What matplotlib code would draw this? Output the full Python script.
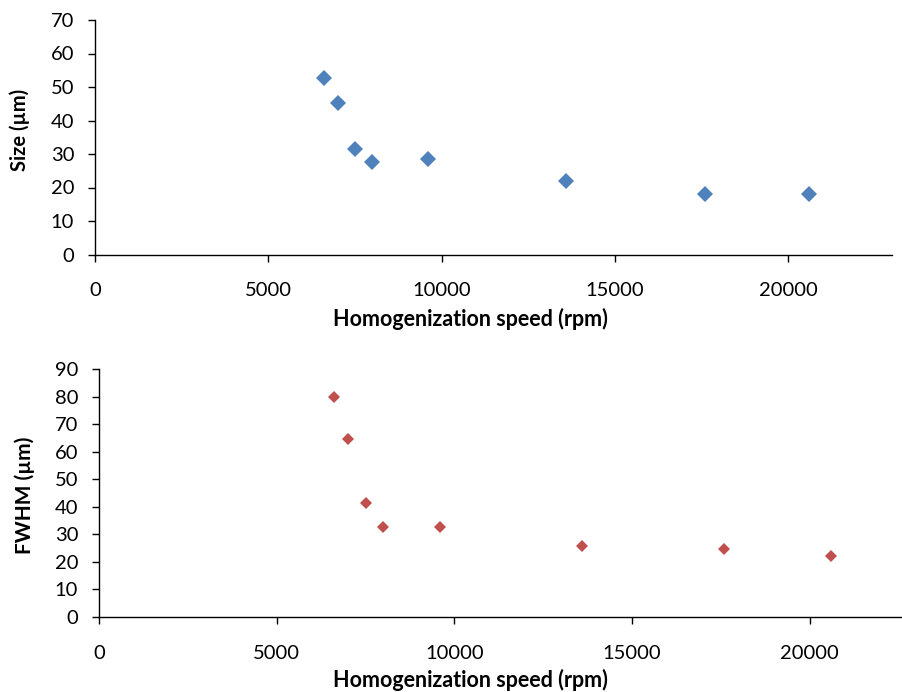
import matplotlib
matplotlib.use("Agg")
import matplotlib.pyplot as plt

# homogenization speed (rpm) and measured values
speed = [6600, 7000, 7500, 8000, 9600, 13600, 17600, 20600]
size_um = [52.8, 45.3, 31.5, 27.6, 28.4, 21.9, 18.0, 18.0]
fwhm_um = [79.8, 64.5, 41.4, 32.5, 32.5, 25.9, 24.7, 22.1]

xticks = [0, 5000, 10000, 15000, 20000]
size_ticks = list(range(0, 71, 10))
fwhm_ticks = list(range(0, 91, 10))

BLUE = "#4F81BD"
RED = "#C0504D"
FONT = "Lato"

plt.rcParams["font.family"] = [FONT, "DejaVu Sans"]

W, H = 903, 692
fig = plt.figure(figsize=(W / 100, H / 100), dpi=100)
fig.patch.set_facecolor("white")


def px_axes(left, top, right, bottom):
    return fig.add_axes([left / W, 1 - bottom / H, (right - left) / W, (bottom - top) / H])


def style(ax, yticks, ymax):
    ax.set_xlim(0, 23000)
    ax.set_ylim(0, ymax)
    ax.set_xticks(xticks)
    ax.set_yticks(yticks)
    for s in ("top", "right"):
        ax.spines[s].set_visible(False)
    for s in ("left", "bottom"):
        ax.spines[s].set_linewidth(1.0)
        ax.spines[s].set_color("black")
    ax.tick_params(axis="x", direction="out", length=5, width=1.0, pad=15, labelsize=14.5)
    ax.tick_params(axis="y", direction="out", length=5, width=1.0, pad=10, labelsize=14.5)
    for lab in ax.get_xticklabels() + ax.get_yticklabels():
        lab.set_color("black")


ax1 = px_axes(95, 20, 892, 254.5)
ax1.plot(speed, size_um, linestyle="none", marker="D", markersize=8.2,
         markeredgewidth=0, color=BLUE, clip_on=False)
style(ax1, size_ticks, 70)

ax2 = px_axes(99, 369, 916.4, 617)
ax2.plot(speed, fwhm_um, linestyle="none", marker="D", markersize=6.5,
         markeredgewidth=0, color=RED, clip_on=False)
style(ax2, fwhm_ticks, 90)

fig.text(470 / W, 1 - 319 / H, "Homogenization speed (rpm)", ha="center", va="center",
         fontsize=15.5, weight="bold")
fig.text(20 / W, 1 - 130 / H, "Size (µm)", ha="center", va="center", rotation=90,
         fontsize=14.5, weight="bold")
fig.text(470 / W, 1 - 680 / H, "Homogenization speed (rpm)", ha="center", va="center",
         fontsize=15.5, weight="bold")
fig.text(25 / W, 1 - 495 / H, "FWHM (µm)", ha="center", va="center", rotation=90,
         fontsize=15, weight="bold")

fig.savefig("out.png", dpi=100, facecolor="white")
